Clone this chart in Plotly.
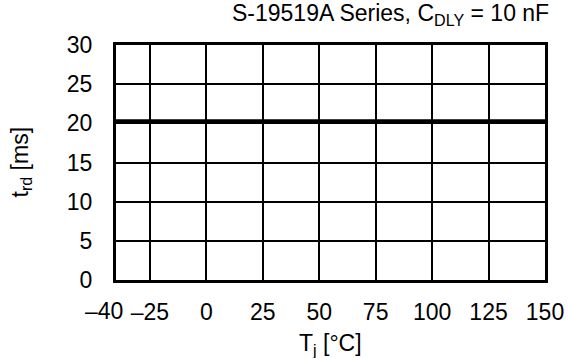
import plotly.graph_objects as go

temps = [-40, -25, 0, 25, 50, 75, 100, 125, 150]
trd_ms = [20.3, 20.3, 20.3, 20.3, 20.3, 20.3, 20.3, 20.3, 20.3]
x_ticks = [-40, -25, 0, 25, 50, 75, 100, 125, 150]
x_ticktext = ["\u201340", "\u201325", "0", "25", "50", "75", "100", "125", "150"]
y_ticks = [0, 5, 10, 15, 20, 25, 30]

FONT = "Arial, Liberation Sans, Helvetica, sans-serif"
FS = 23

fig = go.Figure()
fig.add_trace(go.Scatter(x=temps, y=trd_ms, mode="lines",
                         line=dict(color="black", width=3.5), showlegend=False))

# first tick label drawn separately (shifted left so it does not collide)
axis_text = [""] + x_ticktext[1:]

fig.update_layout(
    width=568, height=358,
    margin=dict(l=116, r=23, t=45, b=78, autoexpand=False),
    paper_bgcolor="white", plot_bgcolor="white",
    font=dict(family=FONT, size=FS, color="black"),
    xaxis=dict(range=[-40, 150], tickvals=x_ticks, ticktext=axis_text,
               tickangle=0, automargin=False,
               showgrid=True, gridcolor="black", gridwidth=1.5,
               showline=True, linecolor="black", linewidth=3, mirror=True,
               ticks="", ticklabelstandoff=9, zeroline=False),
    yaxis=dict(range=[0, 30], tickvals=y_ticks, automargin=False,
               showgrid=True, gridcolor="black", gridwidth=1.5,
               showline=True, linecolor="black", linewidth=3, mirror=True,
               ticks="", ticklabelstandoff=16, zeroline=False),
)

fig.add_annotation(text=x_ticktext[0], xref="x", yref="paper", x=x_ticks[0], y=0,
                   xanchor="right", yanchor="middle", xshift=9, yshift=-31,
                   showarrow=False, font=dict(family=FONT, size=FS))
fig.add_annotation(text="S-19519A Series, C<sub>DLY</sub> = 10 nF",
                   xref="paper", yref="paper", x=1, y=1, xshift=6, yshift=31,
                   xanchor="right", yanchor="middle", showarrow=False,
                   font=dict(family=FONT, size=FS))
fig.add_annotation(text="T<sub>j</sub> [°C]",
                   xref="paper", yref="paper", x=0.5, y=0, yshift=-64,
                   xanchor="center", yanchor="middle", showarrow=False,
                   font=dict(family=FONT, size=FS))
fig.add_annotation(text="t<sub>rd</sub> [ms]",
                   xref="paper", yref="paper", x=0, xshift=-95, y=0.5,
                   xanchor="center", yanchor="middle", showarrow=False, textangle=-90,
                   font=dict(family=FONT, size=FS))

fig.write_html("out.html", config={"displayModeBar": False},
               post_script="document.body.style.margin='0';")
